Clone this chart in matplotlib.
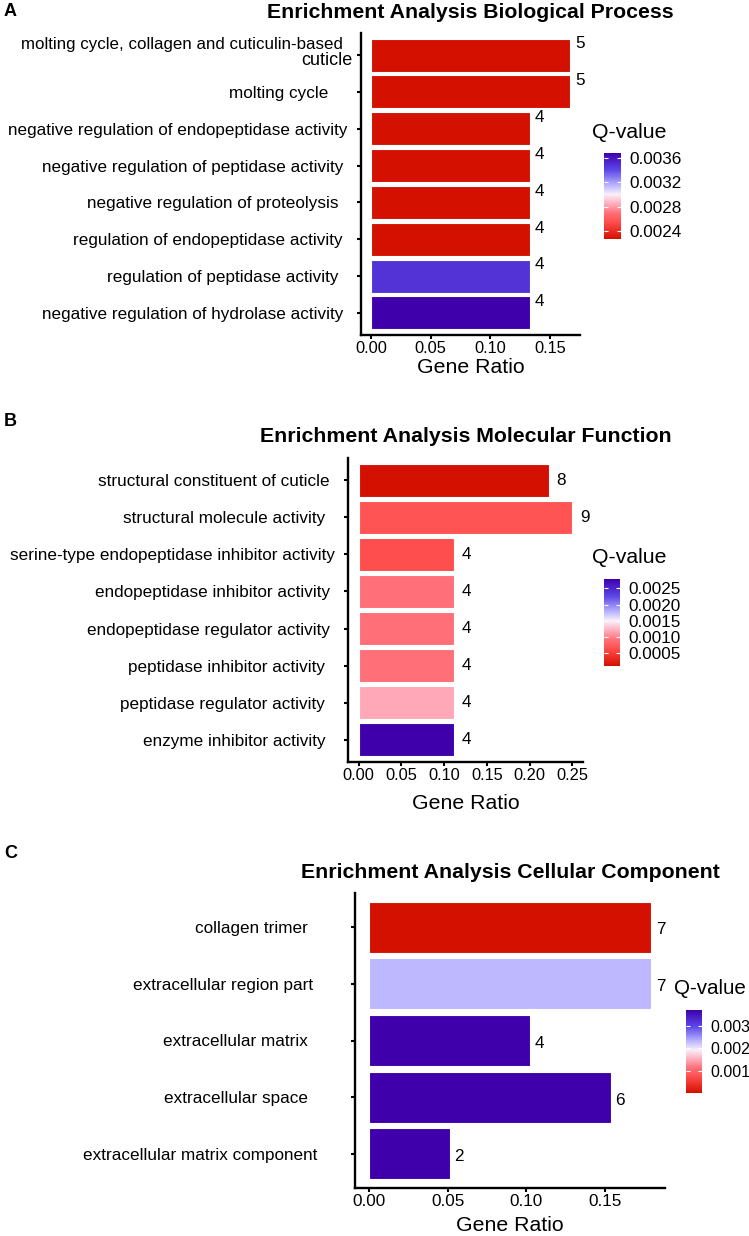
import numpy as np
import matplotlib
matplotlib.use("Agg")
import matplotlib.pyplot as plt
from matplotlib.colors import LinearSegmentedColormap, Normalize
from matplotlib.cm import ScalarMappable

plt.rcParams['font.family'] = ['Liberation Sans', 'DejaVu Sans']

# ---- data ----
bp_terms = ["molting cycle, collagen and cuticulin-based", "molting cycle    ",
            "negative regulation of endopeptidase activity", "negative regulation of peptidase activity ",
            "negative regulation of proteolysis  ", "regulation of endopeptidase activity ",
            "regulation of peptidase activity  ", "negative regulation of hydrolase activity "]
bp_counts = [5, 5, 4, 4, 4, 4, 4, 4]
bp_ratio = [5/30, 5/30, 4/30, 4/30, 4/30, 4/30, 4/30, 4/30]
bp_q = [0.00227, 0.00227, 0.00227, 0.00227, 0.00227, 0.00227, 0.00348, 0.00368]
bp_ticks = [0.0024, 0.0028, 0.0032, 0.0036]

mf_terms = ["structural constituent of cuticle ", "structural molecule activity  ",
            "serine-type endopeptidase inhibitor activity", "endopeptidase inhibitor activity ",
            "endopeptidase regulator activity ", "peptidase inhibitor activity  ",
            "peptidase regulator activity  ", "enzyme inhibitor activity  "]
mf_counts = [8, 9, 4, 4, 4, 4, 4, 4]
mf_ratio = [8/36, 9/36, 4/36, 4/36, 4/36, 4/36, 4/36, 4/36]
mf_q = [0.00011, 0.00068, 0.00064, 0.00091, 0.00091, 0.00091, 0.00118, 0.00279]
mf_ticks = [0.0005, 0.0010, 0.0015, 0.0020, 0.0025]

cc_terms = ["collagen trimer  ", "extracellular region part ", "extracellular matrix  ",
            "extracellular space  ", "extracellular matrix component"]
cc_counts = [7, 7, 4, 6, 2]
cc_ratio = [7/39, 7/39, 4/39, 6/39, 2/39]
cc_q = [0.000012, 0.0023, 0.0037, 0.0037, 0.0037]
cc_ticks = [0.001, 0.002, 0.003]

cmap = LinearSegmentedColormap.from_list("qv", [
    (0.0, "#d41000"), (0.2, "#ff4f4f"), (0.3, "#ff7078"), (0.4, "#ffa8b8"),
    (0.52, "#f8f0fa"), (0.62, "#bdb8ff"), (0.8, "#5c48e8"), (1.0, "#3f00ab")])

W, H = 749, 1236
fig = plt.figure(figsize=(W / 100, H / 100), dpi=100)


def box(l, t, r, b):
    return [l / W, 1 - b / H, (r - l) / W, (b - t) / H]


def panel(letter, title, terms, counts, ratio, q, ticks, ax_px, cb_px, qv_xy, xticks,
          label_pad, tick_fs, xlabelpad, num_dy, num_dx, cb_fs=12.3, qv_fs=15.3):
    ax = fig.add_axes(box(*ax_px))
    vmin, vmax = min(q), max(q)
    norm = Normalize(vmin=vmin, vmax=vmax)
    y = np.arange(len(terms))
    ax.barh(y, ratio, height=0.9, color=cmap(norm(q)), edgecolor="white", linewidth=0.8)
    for yi, r, c in zip(y, ratio, counts):
        ax.annotate(str(c), (r, yi), xytext=(num_dx, num_dy), textcoords="offset points",
                    ha="left", va="center", fontsize=12.3)
    xmax = max(ratio)
    ax.set_xlim(-0.05 * xmax, 1.05 * xmax)
    ax.set_ylim(len(terms) - 0.4, -0.6)
    ax.set_yticks(y)
    ax.set_yticklabels(terms, fontsize=12.3)
    ax.set_xticks(xticks)
    ax.set_xticklabels(["%.2f" % v for v in xticks], fontsize=tick_fs)
    ax.tick_params(axis="y", length=3, width=1.5, pad=label_pad)
    ax.tick_params(axis="x", length=3, width=1.5, pad=1.5)
    for s in ["top", "right"]:
        ax.spines[s].set_visible(False)
    for s in ["left", "bottom"]:
        ax.spines[s].set_linewidth(1.7)
    ax.set_xlabel("Gene Ratio", fontsize=15.3, labelpad=xlabelpad)
    cx = (ax_px[0] + ax_px[2]) / 2
    fig.text(cx / W, 1 - (ax_px[1] - 21) / H, title, fontsize=15.3, fontweight="bold",
             ha="center", va="center")

    cax = fig.add_axes(box(*cb_px))
    cb = fig.colorbar(ScalarMappable(norm=norm, cmap=cmap), cax=cax, ticks=ticks)
    cb.outline.set_visible(False)
    cb.ax.tick_params(length=3, width=0.8, color="white", direction="in", left=True,
                      right=True, labelsize=cb_fs, pad=6)
    fmt = "%.4f" if ticks[0] < 0.001 or len(str(ticks[0])) > 5 else "%.3f"
    cb.ax.set_yticklabels([fmt % t for t in ticks])
    fig.text(qv_xy[0] / W, 1 - qv_xy[1] / H, "Q-value", fontsize=qv_fs, ha="left", va="center")
    fig.text(4 / W, 1 - letter[1] / H, letter[0], fontsize=13, fontweight="bold",
             ha="left", va="center")
    return ax


axA = panel(("A", 12), "Enrichment Analysis Biological Process", bp_terms, bp_counts, bp_ratio,
            bp_q, bp_ticks, (361, 33, 580, 335), (604, 153, 621, 239), (592, 132),
            [0.00, 0.05, 0.10, 0.15], 6.5, 11.8, 1.5, 8, 3.5)
# first BP label spans two lines, second line set larger
axA.set_yticklabels([""] + bp_terms[1:], fontsize=12.3)
axA.annotate(bp_terms[0], (0, 0), xycoords=("axes fraction", "data"), xytext=(-13, 7.6),
             textcoords="offset points", ha="right", va="center", fontsize=12.2)
axA.annotate("cuticle", (0, 0), xycoords=("axes fraction", "data"), xytext=(-5.8, -4),
             textcoords="offset points", ha="right", va="center", fontsize=13)

panel(("B", 422), "Enrichment Analysis Molecular Function", mf_terms, mf_counts, mf_ratio,
      mf_q, mf_ticks, (348, 458, 583, 762), (604, 579, 620, 666), (592, 557),
      [0.00, 0.05, 0.10, 0.15, 0.20, 0.25], 6.5, 11.8, 8, 0, 5.5)

panel(("C", 853), "Enrichment Analysis Cellular Component", cc_terms, cc_counts, cc_ratio,
      cc_q, cc_ticks, (355, 893, 665, 1188), (686, 1010, 702, 1093), (674, 988),
      [0.00, 0.05, 0.10, 0.15], 24, 12.3, 5, -2, 3.5, cb_fs=11.5, qv_fs=14.8)

fig.savefig("out.png", dpi=100)
